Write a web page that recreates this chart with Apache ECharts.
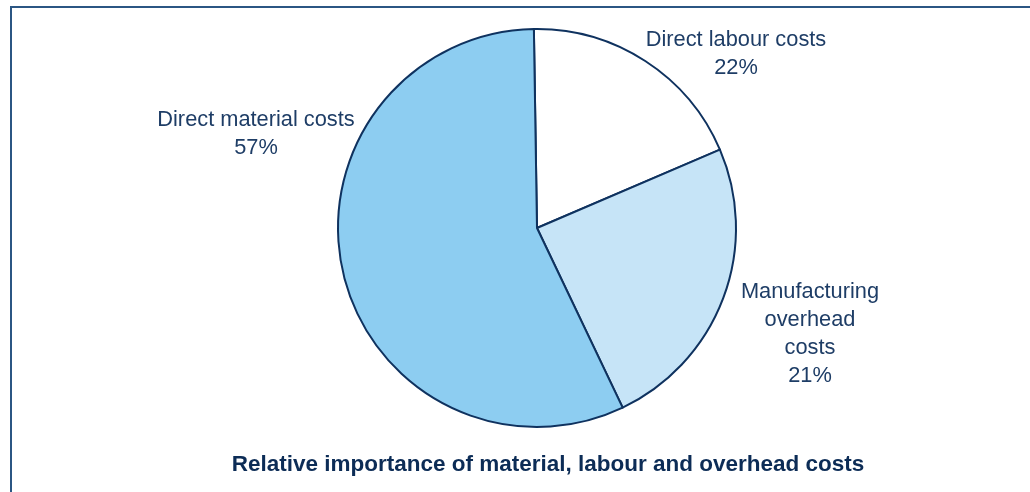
<!doctype html>
<html>
<head>
    <meta charset="utf-8">
    <title>Relative importance of material, labour and overhead costs</title>
    <script src="https://cdn.jsdelivr.net/npm/echarts@6/dist/echarts.min.js"></script>
    <style type="text/css">
        html, body { margin: 0; padding: 0; background: #fff; }
        #C-Pie { width: 1030px; height: 492px; }
    </style>
</head>
<body>
    <div id="C-Pie"></div>
    <script type="text/javascript">
        // slice names and the percentages printed on the chart
        var costNames = ['Direct labour costs', 'Manufacturing\noverhead\ncosts', 'Direct material costs'];
        var printedPct = ['22%', '21%', '57%'];
        var sliceDeg = [67.7, 87.7, 204.6];

        var sliceColor = ['#ffffff', '#c6e4f7', '#8dcdf1'];
        var edgeColor = '#0f325f';
        var textColor = '#1e3d66';
        // label centres (px) for each slice
        var labelPos = [[736, 54], [810, 334], [256, 134]];

        var pie = echarts.init(document.getElementById('C-Pie'));

        var pieItems = [];
        for (var i = 0; i < costNames.length; i++) {
            pieItems.push({
                name: costNames[i],
                value: sliceDeg[i],
                pct: printedPct[i],
                itemStyle: { color: sliceColor[i] }
            });
        }

        var optPie = {
            animation: false,
            graphic: [
                { type: 'line', shape: { x1: 10, y1: 7, x2: 1030, y2: 7 }, style: { stroke: '#2b5683', lineWidth: 2 } },
                { type: 'line', shape: { x1: 11, y1: 6, x2: 11, y2: 492 }, style: { stroke: '#2b5683', lineWidth: 2 } },
                {
                    type: 'text', x: 548, y: 465,
                    style: {
                        text: 'Relative importance of material, labour and overhead costs',
                        fill: '#0c2c56',
                        font: 'bold 22.5px "Liberation Sans", Arial, sans-serif',
                        align: 'center',
                        verticalAlign: 'middle'
                    }
                }
            ],
            series: [{
                type: 'pie',
                center: [537, 228],
                radius: 199,
                startAngle: 90.9,
                clockwise: true,
                sort: false,
                avoidLabelOverlap: false,
                itemStyle: { borderColor: edgeColor, borderWidth: 2 },
                emphasis: { disabled: true },
                label: {
                    show: true,
                    position: 'outside',
                    color: textColor,
                    fontFamily: '"Liberation Sans", Arial, sans-serif',
                    fontSize: 21.8,
                    lineHeight: 28,
                    align: 'center',
                    formatter: function (d) {
                        return d.name + '\n' + d.data.pct;
                    }
                },
                labelLine: { show: false },
                labelLayout: function (p) {
                    var pos = labelPos[p.dataIndex];
                    return { x: pos[0], y: pos[1], align: 'center', verticalAlign: 'middle' };
                },
                data: pieItems
            }]
        };
        pie.setOption(optPie);
    </script>
</body>
</html>
